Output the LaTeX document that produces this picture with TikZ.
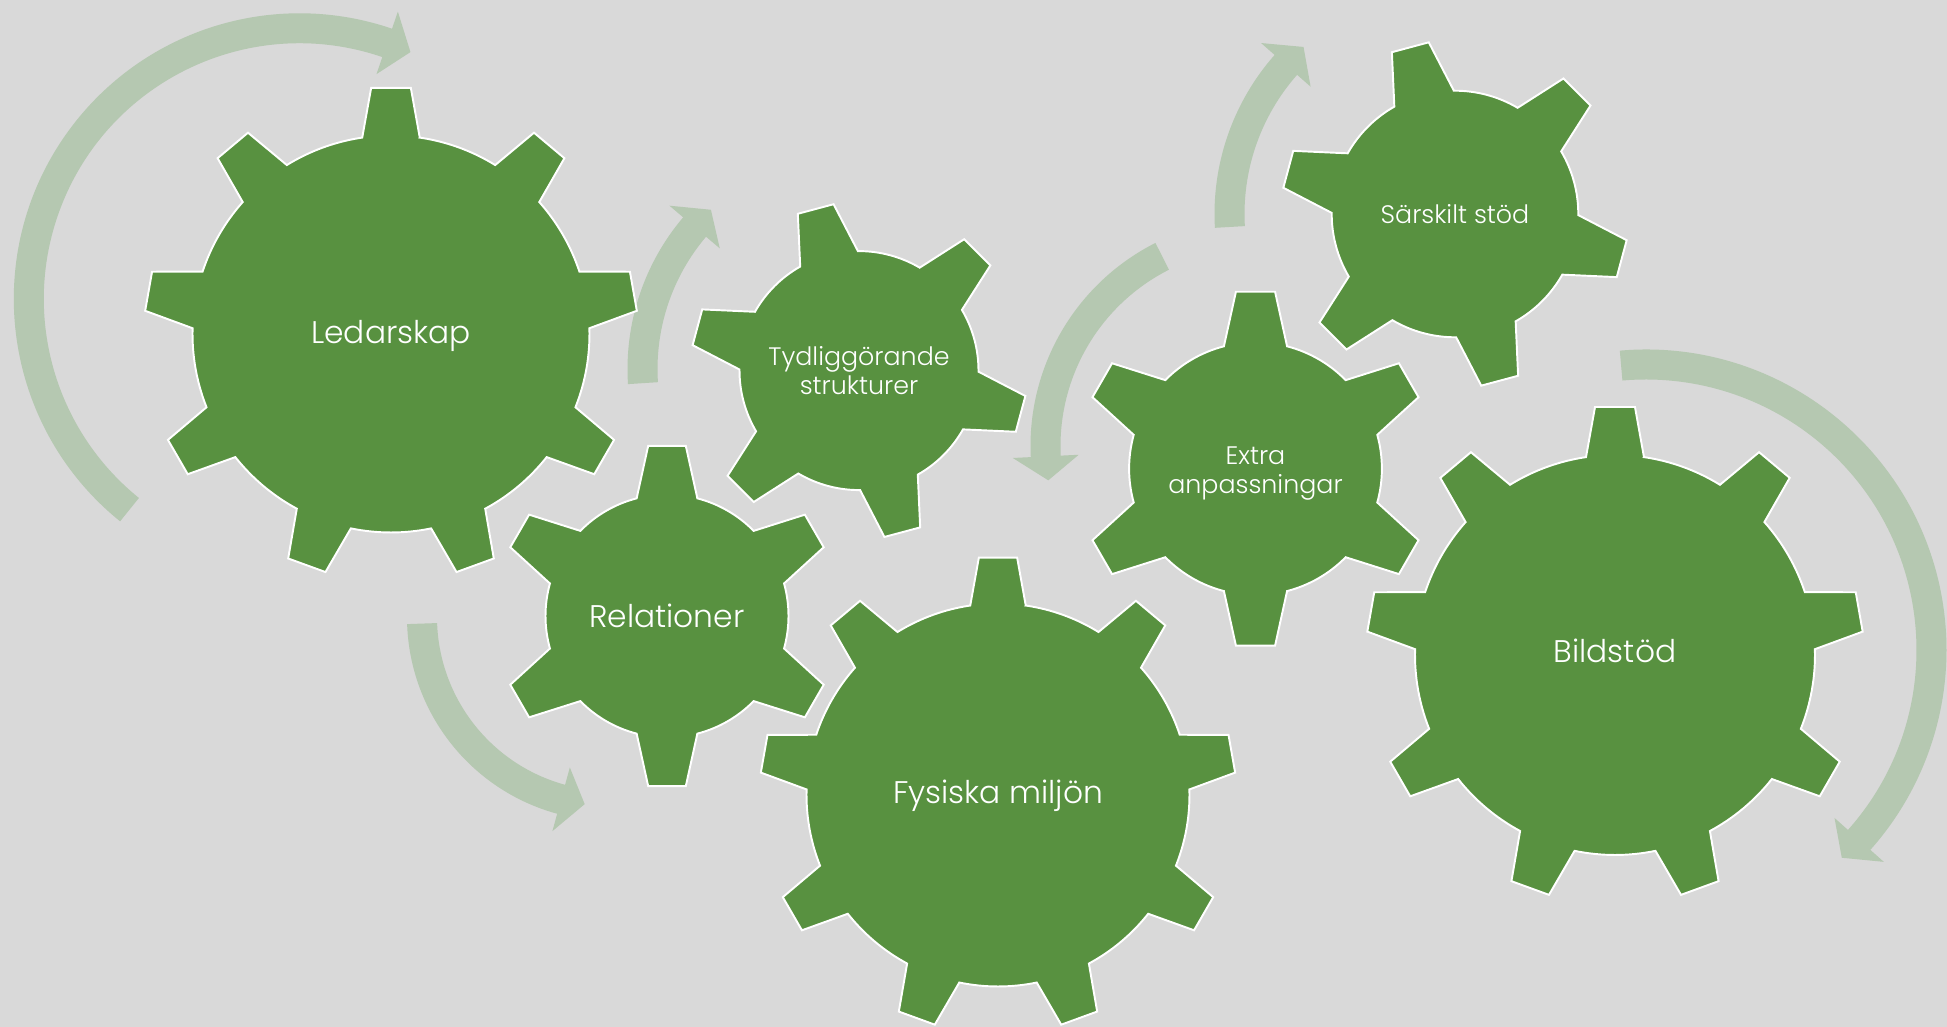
\documentclass[tikz,border=0pt]{standalone}
\usepackage{fontspec}
\setmainfont{Poppins}[UprightFont=* Light]
\usepackage{tikz}

\definecolor{backdrop}{RGB}{217,217,217}
\definecolor{cogfill}{RGB}{88,145,64}
\definecolor{turnfill}{RGB}{181,200,177}

\tikzset{
  gear/.style={fill=cogfill,draw=white,line width=0.55pt},
  turnarrow/.style={fill=turnfill},
  cogtext/.style={text=white,align=center,font=\fontsize{8.9}{11}\selectfont},
  smalltext/.style={cogtext,font=\fontsize{7.2}{8.2}\selectfont}
}

% gear: centre, radius, rotation, teeth, tooth tip radius, tip half width, base half width
\newcommand{\cog}[7]{%
  \pgfmathsetmacro{\cogstep}{360/#4}%
  \pgfmathsetmacro{\cogbase}{asin(#7)}%
  \pgfmathsetmacro{\cogtip}{atan(#6/#5)}%
  \pgfmathsetmacro{\cogrho}{sqrt(#5*#5+#6*#6)}%
  \draw[gear,shift={#1},scale=#2,rotate=#3] ({90-\cogbase}:1)
    \foreach \k in {1,...,#4} {
      -- ({90+(\k-1)*\cogstep-\cogtip}:\cogrho) -- ({90+(\k-1)*\cogstep+\cogtip}:\cogrho)
      -- ({90+(\k-1)*\cogstep+\cogbase}:1)
      arc[start angle={90+(\k-1)*\cogstep+\cogbase},end angle={90+\k*\cogstep-\cogbase},radius=1]
    } -- cycle;}

% circular arrow: centre, mid radius, tail angle, head angle, tip angle
\newcommand{\cogturn}[5]{%
  \fill[turnarrow,shift={#1}] ({#3}:{#2+15}) arc[start angle={#3},end angle={#4},radius={#2+15}]
    -- ({#4}:{#2+33}) -- ({#5}:{#2}) -- ({#4}:{#2-33}) -- ({#4}:{#2-15})
    arc[start angle={#4},end angle={#3},radius={#2-15}] -- cycle;}

\begin{document}
\begin{tikzpicture}[x=0.01cm,y=0.01cm]
  \fill[backdrop] (0,0) rectangle (1947,1027);
  \useasboundingbox (0,0) rectangle (1947,1027);

  % arrows behind the gears
  \cogturn{(299.5,728)}{270.7}{231.1}{71.1}{65.8}
  \cogturn{(862,658)}{219.5}{183.7}{139.7}{133.5}
  \cogturn{(1258,581)}{212.5}{116.8}{182.8}{189.3}
  \cogturn{(1455,813)}{225.5}{183.3}{138.6}{132.2}
  \cogturn{(611,410)}{189}{182}{254.7}{262}
  \cogturn{(1646,377)}{285.5}{95}{-41.7}{-46.7}

  % gears
  \cog{(391,693)}{198.5}{0}{9}{1.24}{0.10}{0.145}
  \cog{(998,232)}{191.5}{0}{9}{1.24}{0.10}{0.145}
  \cog{(1615,372)}{200}{0}{9}{1.24}{0.10}{0.145}
  \cog{(667,411)}{121.5}{0}{6}{1.40}{0.155}{0.25}
  \cog{(1255.5,558.3)}{126.4}{0}{6}{1.40}{0.155}{0.25}
  \cog{(859,656.4)}{119.5}{15}{6}{1.40}{0.155}{0.25}
  \cog{(1455,813)}{123.3}{15}{6}{1.40}{0.155}{0.25}

  \node[cogtext] (ledarskap) at (391,691) {Ledarskap};
  \node[cogtext] (fysiska) at (998,231) {Fysiska miljön};
  \node[cogtext] (bildstod) at (1615,376) {Bildstöd};
  \node[cogtext] (relationer) at (667,411) {Relationer};
  \node[smalltext] (extra) at (1255.5,553.5) {Extra\\anpassningar};
  \node[smalltext] (tydlig) at (859,656.4) {Tydliggörande\\strukturer};
  \node[smalltext] (sarskilt) at (1455,813) {Särskilt stöd};
\end{tikzpicture}
\end{document}
